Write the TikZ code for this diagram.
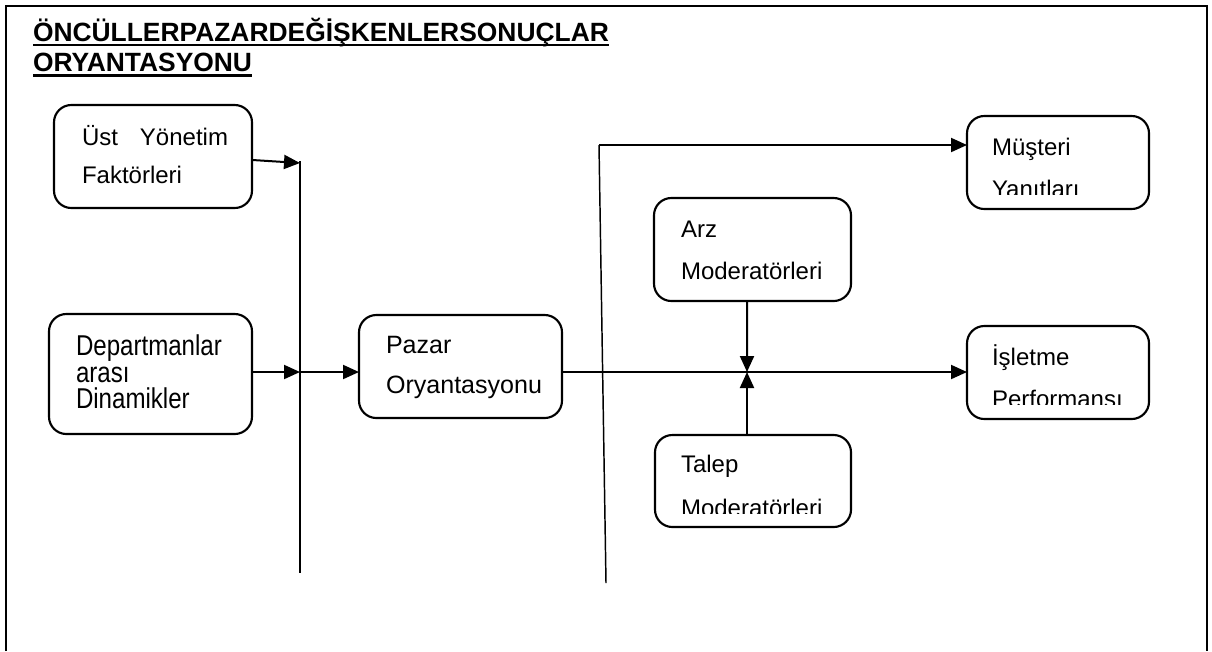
\documentclass[tikz,border=0pt]{standalone}
\usepackage{fontspec}
\setmainfont{Liberation Sans}
\newfontfamily\depfont[FakeStretch=0.84]{Liberation Sans}
\usetikzlibrary{arrows.meta}
\begin{document}
\begin{tikzpicture}[x=0.75pt,y=-0.75pt,
  box/.style={draw,line width=1.6pt,rounded corners=13pt,inner sep=0pt,outer sep=0pt},
  txt/.style={anchor=base west,inner sep=0pt,outer sep=0pt,font=\fontsize{18pt}{21pt}\selectfont},
  deptxt/.style={anchor=base west,inner sep=0pt,outer sep=0pt,font=\depfont\fontsize{21.5pt}{24pt}\selectfont},
  paztxt/.style={anchor=base west,inner sep=0pt,outer sep=0pt,font=\fontsize{18.8pt}{22pt}\selectfont},
  ttl/.style={anchor=base west,inner sep=0pt,outer sep=0pt,font=\fontsize{19.8pt}{23pt}\selectfont\bfseries},
  uline/.style={line width=2pt},
  arr/.style={line width=1.5pt,-{Triangle[length=12pt,width=10.5pt]}},
  vline/.style={line width=1.1pt},
  frame/.style={line width=1.7pt}]
\useasboundingbox (0,0) rectangle (1212,651);
% frame
\coordinate (fbl) at (6,651);
\coordinate (ftl) at (6,6);
\coordinate (ftr) at (1207,6);
\coordinate (fbr) at (1207,651);
\draw[frame] (fbl) -- (ftl) -- (ftr) -- (fbr);
% title
\node[ttl] (t1) at (33,41.5) {ÖNCÜLLERPAZARDEĞİŞKENLERSONUÇLAR};
\node[ttl] (t2) at (33,71) {ORYANTASYONU};
\draw[uline] ([yshift=-2.6pt]t1.base west) -- ([yshift=-2.6pt]t1.base east);
\draw[uline] ([yshift=-3.6pt]t2.base west) -- ([yshift=-3.6pt]t2.base east);
% boxes
\node[box,minimum width=198*0.75pt,minimum height=103*0.75pt] (ust) at (153,156.5) {};
\node[box,minimum width=203*0.75pt,minimum height=120*0.75pt] (dep) at (150.5,374) {};
\node[box,minimum width=203*0.75pt,minimum height=103*0.75pt] (paz) at (460.5,366.5) {};
\node[box,minimum width=182*0.75pt,minimum height=93*0.75pt] (mus) at (1058,162.5) {};
\node[box,minimum width=197*0.75pt,minimum height=103*0.75pt] (arz) at (752.5,249.5) {};
\node[box,minimum width=196*0.75pt,minimum height=92*0.75pt] (tal) at (753,481) {};
\node[box,minimum width=182*0.75pt,minimum height=93*0.75pt] (isl) at (1058,372.5) {};
% texts
\node[txt] (ust1) at (82,145) {Üst\hspace{16.5pt}Yönetim};
\node[txt] (ust2) at (82,183) {Faktörleri};
\node[deptxt] (dep1) at (76,355) {Departmanlar};
\node[deptxt] (dep2) at (76,382) {arası};
\node[deptxt] (dep3) at (76,408) {Dinamikler};
\node[paztxt] (paz1) at (386,353) {Pazar};
\node[paztxt] (paz2) at (386,393) {Oryantasyonu};
\node[txt] (mus1) at (992,155) {Müşteri};
\begin{scope}
\clip (960,170) rectangle (1145,194);
\node[txt] (mus2) at (992,197) {Yanıtları};
\end{scope}
\node[txt] (arz1) at (681,237) {Arz};
\node[txt] (arz2) at (681,279) {Moderatörleri};
\node[txt] (tal1) at (681,472) {Talep};
\begin{scope}
\clip (660,490) rectangle (848,513);
\node[txt] (tal2) at (681,516) {Moderatörleri};
\end{scope}
\node[txt] (isl1) at (992,365) {İşletme};
\begin{scope}
\clip (960,380) rectangle (1145,404);
\node[txt] (isl2) at (992,407) {Performansı};
\end{scope}
% junction coordinates
\coordinate (j1top) at (300,161);
\coordinate (j1mid) at (300,372);
\coordinate (j1bot) at (300,573);
\coordinate (j1tip) at (300,163);
\coordinate (j2top) at (599,145);
\coordinate (j2bot) at (606,583);
\coordinate (mod) at (747,372);
% connectors
\draw[vline] (j1top) -- (j1bot);
\draw[arr] ([yshift=-2.6pt]ust.east) -- (j1tip);
\draw[arr] ([yshift=1.5pt]dep.east) -- (j1mid);
\draw[arr] (j1mid) -- (j1mid -| paz.west);
\draw[arr] (paz.east |- j1mid) -- (j1mid -| isl.west);
\draw[vline] (j2bot) -- (j2top);
\draw[arr] (j2top) -- (j2top -| mus.west);
\draw[arr] ([xshift=-4.1pt]arz.south) -- (mod);
\draw[arr] ([xshift=-4.5pt]tal.north) -- (mod);
\end{tikzpicture}
\end{document}
